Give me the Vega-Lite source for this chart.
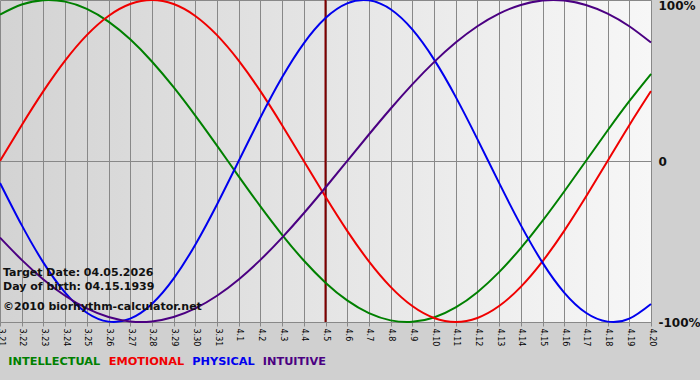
{
  "$schema": "https://vega.github.io/schema/vega-lite/v6.json",
  "width": 651,
  "height": 322,
  "autosize": {"type": "none"},
  "padding": {"left": 0, "top": 0, "right": 49, "bottom": 58},
  "background": "#d0d0d0",
  "config": {
    "font": "DejaVu Sans",
    "view": {
      "stroke": null,
      "fill": {
        "gradient": "linear",
        "x1": 0, "y1": 0, "x2": 1, "y2": 0,
        "stops": [
          {"offset": 0, "color": "#d3d3d3"},
          {"offset": 1, "color": "#f7f7f7"}
        ]
      }
    }
  },
  "datasets": {
    "bio": [
      {"date": "2026-03-21", "INTELLECTUAL": 0.9096, "EMOTIONAL": 0, "PHYSICAL": -0.1362, "INTUITIVE": -0.4759},
      {"date": "2026-03-22", "INTELLECTUAL": 0.9718, "EMOTIONAL": 0.2225, "PHYSICAL": -0.3984, "INTUITIVE": -0.6142},
      {"date": "2026-03-23", "INTELLECTUAL": 0.9989, "EMOTIONAL": 0.4339, "PHYSICAL": -0.6310, "INTUITIVE": -0.7357},
      {"date": "2026-03-24", "INTELLECTUAL": 0.9898, "EMOTIONAL": 0.6235, "PHYSICAL": -0.8170, "INTUITIVE": -0.8372},
      {"date": "2026-03-25", "INTELLECTUAL": 0.9450, "EMOTIONAL": 0.7818, "PHYSICAL": -0.9423, "INTUITIVE": -0.9158},
      {"date": "2026-03-26", "INTELLECTUAL": 0.8660, "EMOTIONAL": 0.9010, "PHYSICAL": -0.9977, "INTUITIVE": -0.9694},
      {"date": "2026-03-27", "INTELLECTUAL": 0.7557, "EMOTIONAL": 0.9749, "PHYSICAL": -0.9791, "INTUITIVE": -0.9966},
      {"date": "2026-03-28", "INTELLECTUAL": 0.6182, "EMOTIONAL": 1.0, "PHYSICAL": -0.8879, "INTUITIVE": -0.9966},
      {"date": "2026-03-29", "INTELLECTUAL": 0.4582, "EMOTIONAL": 0.9749, "PHYSICAL": -0.7308, "INTUITIVE": -0.9694},
      {"date": "2026-03-30", "INTELLECTUAL": 0.2817, "EMOTIONAL": 0.9010, "PHYSICAL": -0.5196, "INTUITIVE": -0.9158},
      {"date": "2026-03-31", "INTELLECTUAL": 0.0951, "EMOTIONAL": 0.7818, "PHYSICAL": -0.2698, "INTUITIVE": -0.8372},
      {"date": "2026-04-01", "INTELLECTUAL": -0.0951, "EMOTIONAL": 0.6235, "PHYSICAL": 0, "INTUITIVE": -0.7357},
      {"date": "2026-04-02", "INTELLECTUAL": -0.2817, "EMOTIONAL": 0.4339, "PHYSICAL": 0.2698, "INTUITIVE": -0.6142},
      {"date": "2026-04-03", "INTELLECTUAL": -0.4582, "EMOTIONAL": 0.2225, "PHYSICAL": 0.5196, "INTUITIVE": -0.4759},
      {"date": "2026-04-04", "INTELLECTUAL": -0.6182, "EMOTIONAL": 0, "PHYSICAL": 0.7308, "INTUITIVE": -0.3247},
      {"date": "2026-04-05", "INTELLECTUAL": -0.7557, "EMOTIONAL": -0.2225, "PHYSICAL": 0.8879, "INTUITIVE": -0.1646},
      {"date": "2026-04-06", "INTELLECTUAL": -0.8660, "EMOTIONAL": -0.4339, "PHYSICAL": 0.9791, "INTUITIVE": 0},
      {"date": "2026-04-07", "INTELLECTUAL": -0.9450, "EMOTIONAL": -0.6235, "PHYSICAL": 0.9977, "INTUITIVE": 0.1646},
      {"date": "2026-04-08", "INTELLECTUAL": -0.9898, "EMOTIONAL": -0.7818, "PHYSICAL": 0.9423, "INTUITIVE": 0.3247},
      {"date": "2026-04-09", "INTELLECTUAL": -0.9989, "EMOTIONAL": -0.9010, "PHYSICAL": 0.8170, "INTUITIVE": 0.4759},
      {"date": "2026-04-10", "INTELLECTUAL": -0.9718, "EMOTIONAL": -0.9749, "PHYSICAL": 0.6310, "INTUITIVE": 0.6142},
      {"date": "2026-04-11", "INTELLECTUAL": -0.9096, "EMOTIONAL": -1.0, "PHYSICAL": 0.3984, "INTUITIVE": 0.7357},
      {"date": "2026-04-12", "INTELLECTUAL": -0.8146, "EMOTIONAL": -0.9749, "PHYSICAL": 0.1362, "INTUITIVE": 0.8372},
      {"date": "2026-04-13", "INTELLECTUAL": -0.6901, "EMOTIONAL": -0.9010, "PHYSICAL": -0.1362, "INTUITIVE": 0.9158},
      {"date": "2026-04-14", "INTELLECTUAL": -0.5406, "EMOTIONAL": -0.7818, "PHYSICAL": -0.3984, "INTUITIVE": 0.9694},
      {"date": "2026-04-15", "INTELLECTUAL": -0.3717, "EMOTIONAL": -0.6235, "PHYSICAL": -0.6310, "INTUITIVE": 0.9966},
      {"date": "2026-04-16", "INTELLECTUAL": -0.1893, "EMOTIONAL": -0.4339, "PHYSICAL": -0.8170, "INTUITIVE": 0.9966},
      {"date": "2026-04-17", "INTELLECTUAL": 0, "EMOTIONAL": -0.2225, "PHYSICAL": -0.9423, "INTUITIVE": 0.9694},
      {"date": "2026-04-18", "INTELLECTUAL": 0.1893, "EMOTIONAL": 0, "PHYSICAL": -0.9977, "INTUITIVE": 0.9158},
      {"date": "2026-04-19", "INTELLECTUAL": 0.3717, "EMOTIONAL": 0.2225, "PHYSICAL": -0.9791, "INTUITIVE": 0.8372},
      {"date": "2026-04-20", "INTELLECTUAL": 0.5406, "EMOTIONAL": 0.4339, "PHYSICAL": -0.8879, "INTUITIVE": 0.7357}
    ],
    "target": [{"date": "2026-04-05"}]
  },
  "layer": [
    {
      "data": {"name": "target"},
      "mark": {"type": "rule", "color": "#800000", "strokeWidth": 2},
      "encoding": {
        "x": {"field": "date", "type": "temporal", "title": null}
      }
    },
    {
      "data": {"name": "bio"},
      "transform": [
        {"fold": ["INTELLECTUAL", "EMOTIONAL", "PHYSICAL", "INTUITIVE"], "as": ["cycle", "value"]}
      ],
      "mark": {"type": "line", "strokeWidth": 2, "interpolate": "natural"},
      "encoding": {
        "x": {
          "field": "date",
          "type": "temporal",
          "scale": {
            "type": "utc",
            "nice": false,
            "domain": [
              {"year": 2026, "month": "mar", "date": 21, "utc": true},
              {"year": 2026, "month": "apr", "date": 20, "utc": true}
            ]
          },
          "axis": {
            "title": null,
            "format": "%-m.%-d",
            "tickCount": {"interval": "day", "step": 1},
            "labelAngle": 90,
            "labelFontSize": 8,
            "labelColor": "#000000",
            "labelPadding": 2,
            "labelOverlap": false,
            "labelFlush": false,
            "labelBound": false,
            "tickSize": 4,
            "tickColor": "#888888",
            "domainColor": "#888888",
            "grid": true,
            "gridColor": "#888888",
            "gridOpacity": 1
          }
        },
        "y": {
          "field": "value",
          "type": "quantitative",
          "scale": {"domain": [-1, 1], "nice": false, "zero": false},
          "axis": {
            "orient": "right",
            "title": null,
            "values": [-1, 0, 1],
            "ticks": false,
            "domain": false,
            "grid": true,
            "gridColor": "#888888",
            "gridOpacity": 1,
            "labelExpr": "datum.value == 1 ? '100%' : (datum.value == 0 ? '0' : '-100%')",
            "labelFontSize": 12,
            "labelFontWeight": "bold",
            "labelColor": "#111111",
            "labelPadding": 7,
            "labelFlush": false,
            "labelBaseline": {"condition": {"test": "datum.value == 1", "value": "top"}, "value": "middle"}
          }
        },
        "color": {
          "field": "cycle",
          "type": "nominal",
          "scale": {
            "domain": ["INTELLECTUAL", "EMOTIONAL", "PHYSICAL", "INTUITIVE"],
            "range": ["#008000", "#f00000", "#0000ee", "#4b0082"]
          },
          "legend": {
            "orient": "none",
            "legendX": 8,
            "legendY": 356,
            "direction": "horizontal",
            "title": null,
            "padding": 0,
            "symbolType": "circle",
            "symbolSize": 0,
            "symbolStrokeWidth": 0,
            "symbolOpacity": 0,
            "labelOffset": -11,
            "columnPadding": 7.5,
            "labelFontSize": 11.3,
            "labelFontWeight": "bold",
            "encode": {
              "labels": {"update": {"fill": {"scale": "color", "field": "value"}}}
            }
          }
        }
      }
    },
    {
      "data": {"values": [{"note": "Target Date: 04.05.2026"}]},
      "mark": {"type": "text", "align": "left", "baseline": "alphabetic", "dx": 3, "fontSize": 11, "fontWeight": "bold", "color": "#111111"},
      "encoding": {
        "x": {"datum": {"year": 2026, "month": "mar", "date": 21, "utc": true}, "type": "temporal"},
        "y": {"datum": -0.714, "type": "quantitative"},
        "text": {"field": "note"}
      }
    },
    {
      "data": {"values": [{"note": "Day of birth: 04.15.1939"}]},
      "mark": {"type": "text", "align": "left", "baseline": "alphabetic", "dx": 3, "fontSize": 11, "fontWeight": "bold", "color": "#111111"},
      "encoding": {
        "x": {"datum": {"year": 2026, "month": "mar", "date": 21, "utc": true}, "type": "temporal"},
        "y": {"datum": -0.801, "type": "quantitative"},
        "text": {"field": "note"}
      }
    },
    {
      "data": {"values": [{"note": "©2010 biorhythm-calculator.net"}]},
      "mark": {"type": "text", "align": "left", "baseline": "alphabetic", "dx": 3, "fontSize": 11, "fontWeight": "bold", "color": "#111111"},
      "encoding": {
        "x": {"datum": {"year": 2026, "month": "mar", "date": 21, "utc": true}, "type": "temporal"},
        "y": {"datum": -0.9255, "type": "quantitative"},
        "text": {"field": "note"}
      }
    }
  ]
}
